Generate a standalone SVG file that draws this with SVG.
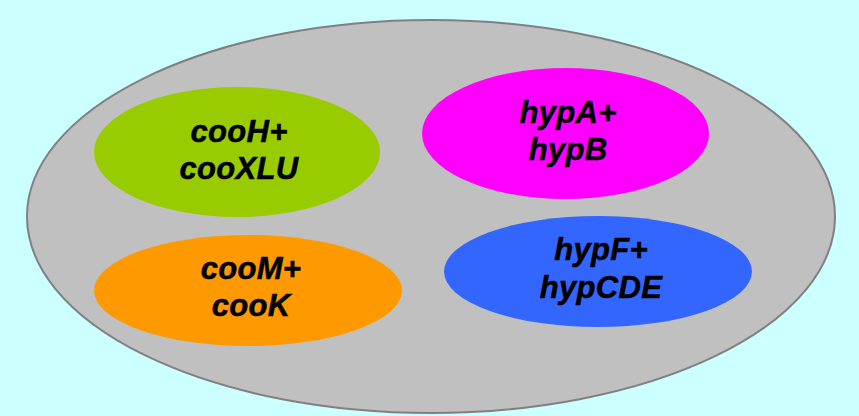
<svg xmlns="http://www.w3.org/2000/svg" width="859" height="416" viewBox="0 0 859 416">
  <style>
    .lbl { font-family: "Liberation Sans", Arial, sans-serif; font-size: 31px; letter-spacing: 0.3px; font-weight: bold; font-style: italic; fill: #000; stroke: #000; stroke-width: 0.5px; text-anchor: middle; }
  </style>
  <rect x="0" y="0" width="859" height="416" fill="#ccffff"/>
  <g id="container">
    <ellipse cx="431" cy="216.5" rx="404" ry="196.5" fill="#c0c0c0" stroke="#808080" stroke-width="2"/>
  </g>
  <g id="connectors"></g>
  <g id="cooH">
    <ellipse cx="237" cy="152" rx="143" ry="65" fill="#99cc00"/>
    <text class="lbl" x="239" y="142">cooH+</text>
    <text class="lbl" x="239" y="179">cooXLU</text>
  </g>
  <g id="hypA">
    <ellipse cx="565.5" cy="133.5" rx="143.5" ry="65.5" fill="#ff00ff"/>
    <text class="lbl" x="568" y="123">hypA+</text>
    <text class="lbl" x="568" y="160">hypB</text>
  </g>
  <g id="cooM">
    <ellipse cx="248" cy="290.5" rx="154" ry="55.5" fill="#ff9900"/>
    <text class="lbl" x="251" y="279">cooM+</text>
    <text class="lbl" x="251" y="316">cooK</text>
  </g>
  <g id="hypF">
    <ellipse cx="598" cy="271.5" rx="154" ry="55.5" fill="#3366ff"/>
    <text class="lbl" x="601" y="260">hypF+</text>
    <text class="lbl" x="601" y="298">hypCDE</text>
  </g>
</svg>
